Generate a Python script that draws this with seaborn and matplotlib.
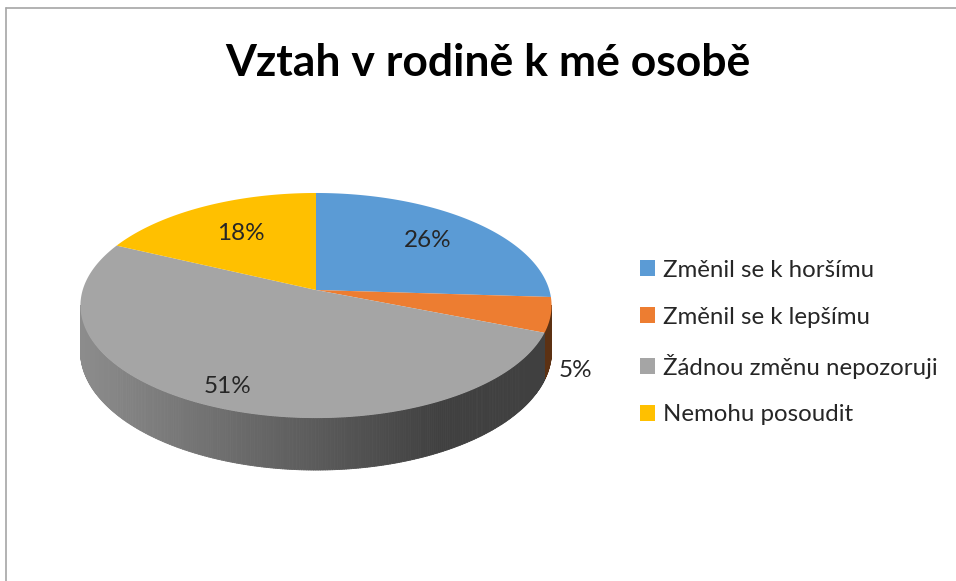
import numpy as np
import matplotlib.pyplot as plt
import seaborn as sns
from matplotlib.collections import PolyCollection
from matplotlib.lines import Line2D

sns.set_theme(style="white")
plt.rcParams['font.family'] = ['Lato', 'DejaVu Sans']

# Data
categories = ["Změnil se k horšímu", "Změnil se k lepšímu",
              "Žádnou změnu nepozoruji", "Nemohu posoudit"]
values = [26, 5, 51, 18]
colors = ["#5B9BD5", "#ED7D31", "#A5A5A5", "#FFC000"]
title = "Vztah v rodině k mé osobě"

# Geometry of the tilted 3D pie (pixel space of the 956x581 canvas)
W, H = 956, 581
cx, cy = 316, 290          # apex of the pie
A, B, k = 233.3, 110.4, 0.138   # horizontal / vertical scale, perspective
d = 44.8                   # side height


def proj(t, r=1.0, h=0.0):
    u, v = r * np.cos(t), r * np.sin(t)
    w = 1 + k * v
    return cx + A * u / w, cy - B * v / w + d * h / w


fig = plt.figure(figsize=(W / 100, H / 100), dpi=100)
ax = fig.add_axes([0, 0, 1, 1])

# Angles of the slices (clockwise from 12 o'clock)
total = sum(values)
ends = 90.0 - 360.0 * np.cumsum(values) / total
starts = np.r_[90.0, ends[:-1]]
mids = np.deg2rad((starts + ends) / 2)

sil = np.rad2deg(np.arcsin(k))  # silhouette of the side wall
polys, pcols = [], []
handles = []
for a1, a0, c in zip(starts, ends, colors):
    base = np.array(sns.color_palette([c])[0])
    # side wall
    lo, hi = max(a0, -180.0 + sil), min(a1, -sil)
    if hi > lo:
        ts = np.deg2rad(np.linspace(lo, hi, max(int((hi - lo) * 2), 2)))
        for t0, t1 in zip(ts[:-1], ts[1:]):
            x0, y0 = proj(t0)
            x1, y1 = proj(t1)
            x2, y2 = proj(t1, h=1)
            x3, y3 = proj(t0, h=1)
            polys.append([(x0, y0), (x1, y1), (x2, y2), (x3, y3)])
            xm = ((x0 + x1) / 2 - cx) / A
            f = np.clip(0.55 - 0.3 * xm, 0.39, 0.85)
            pcols.append(tuple(np.clip(base * f, 0, 1)))
    # top face
    ts = np.deg2rad(np.linspace(a1, a0, max(int((a1 - a0) * 2), 3)))
    px, py = proj(ts)
    h_ = ax.fill(np.r_[cx, px], np.r_[cy, py], color=c, lw=0, zorder=3)[0]
    handles.append(h_)

ax.add_collection(PolyCollection(polys, facecolors=pcols, edgecolors=pcols,
                                 linewidths=0.6, zorder=2))

# Percentage labels
lab_r = [0.7, 1.1, 0.85, 0.65]
lab_h = [0.0, 1.15, 0.0, 0.0]
for v, m, r, hh in zip(values, mids, lab_r, lab_h):
    lx, ly = proj(m, r=r, h=hh)
    ax.text(lx, ly, f"{v}%", ha="center", va="center",
            fontsize=17.5, color="#262626", zorder=5)

ax.set_xlim(0, W)
ax.set_ylim(H, 0)
ax.axis("off")

# Title
fig.text(488 / W, 1 - 63 / H, title, ha="center", va="center",
         fontsize=32, fontweight="bold", color="black")

# Legend
leg = ax.legend(handles, categories, loc="upper left", frameon=False,
                bbox_to_anchor=(630 / W, 1 - 250 / H), bbox_transform=fig.transFigure,
                fontsize=17.3, handlelength=0.62, handleheight=0.62,
                handletextpad=0.35, labelspacing=1.08, borderaxespad=0)
for t in leg.get_texts():
    t.set_color("#262626")

# Chart border (top and left edges)
fig.add_artist(Line2D([6 / W, 1], [1 - 8 / H, 1 - 8 / H], color="#a6a6a6", lw=1.2))
fig.add_artist(Line2D([6 / W, 6 / W], [0, 1 - 8 / H], color="#a6a6a6", lw=1.2))

fig.savefig("out.png", dpi=100)
